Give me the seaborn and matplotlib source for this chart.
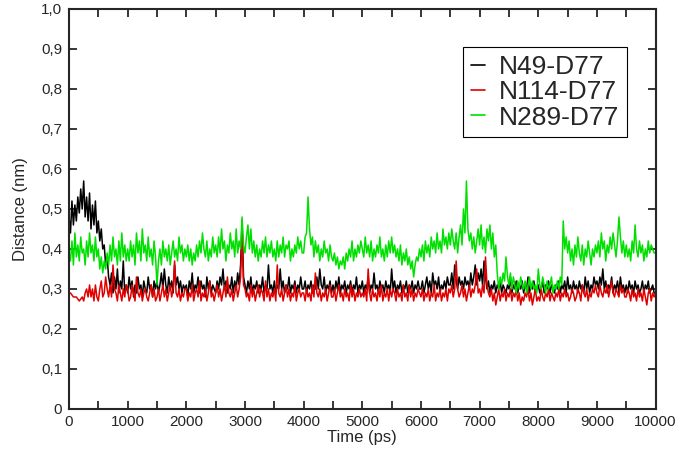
import numpy as np
import pandas as pd
import seaborn as sns
import matplotlib.pyplot as plt
from matplotlib.ticker import MultipleLocator, FuncFormatter

# время, пс (шаг 25 пс)
time_ps = np.arange(0, 10001, 25)

# расстояния, нм - каждая строка 500 пс
n49_d77 = [
    0.48, 0.44, 0.52, 0.46, 0.51, 0.47, 0.53, 0.49, 0.55, 0.50, 0.57, 0.48, 0.53, 0.47, 0.54, 0.45, 0.51, 0.46, 0.52, 0.44,
    0.47, 0.42, 0.45, 0.40, 0.41, 0.36, 0.38, 0.33, 0.31, 0.34, 0.29, 0.33, 0.30, 0.35, 0.29, 0.32, 0.30, 0.37, 0.29, 0.31,
    0.29, 0.33, 0.30, 0.32, 0.28, 0.31, 0.29, 0.33, 0.30, 0.31, 0.28, 0.32, 0.30, 0.29, 0.33, 0.30, 0.31, 0.28, 0.32, 0.30,
    0.32, 0.29, 0.31, 0.34, 0.30, 0.35, 0.31, 0.29, 0.33, 0.30, 0.32, 0.29, 0.36, 0.31, 0.33, 0.30, 0.32, 0.29, 0.31, 0.30,
    0.31, 0.28, 0.32, 0.30, 0.34, 0.29, 0.31, 0.30, 0.33, 0.29, 0.32, 0.30, 0.31, 0.28, 0.33, 0.30, 0.32, 0.29, 0.31, 0.30,
    0.29, 0.32, 0.30, 0.33, 0.31, 0.35, 0.30, 0.32, 0.29, 0.31, 0.30, 0.33, 0.29, 0.32, 0.30, 0.34, 0.31, 0.36, 0.47, 0.33,
    0.31, 0.29, 0.32, 0.30, 0.33, 0.29, 0.31, 0.30, 0.32, 0.29, 0.31, 0.30, 0.33, 0.29, 0.31, 0.30, 0.36, 0.30, 0.31, 0.29,
    0.32, 0.29, 0.31, 0.30, 0.35, 0.30, 0.32, 0.29, 0.31, 0.30, 0.33, 0.29, 0.31, 0.30, 0.32, 0.29, 0.31, 0.30, 0.33, 0.30,
    0.30, 0.32, 0.29, 0.31, 0.30, 0.32, 0.29, 0.31, 0.30, 0.33, 0.30, 0.35, 0.31, 0.30, 0.33, 0.29, 0.31, 0.30, 0.32, 0.29,
    0.31, 0.29, 0.32, 0.30, 0.33, 0.29, 0.31, 0.30, 0.32, 0.29, 0.31, 0.30, 0.32, 0.29, 0.31, 0.30, 0.33, 0.29, 0.31, 0.30,
    0.32, 0.29, 0.31, 0.30, 0.33, 0.29, 0.31, 0.30, 0.34, 0.30, 0.31, 0.29, 0.32, 0.30, 0.31, 0.29, 0.32, 0.30, 0.31, 0.29,
    0.35, 0.30, 0.32, 0.29, 0.31, 0.30, 0.32, 0.29, 0.31, 0.30, 0.32, 0.29, 0.31, 0.30, 0.32, 0.29, 0.31, 0.30, 0.32, 0.30,
    0.30, 0.32, 0.29, 0.31, 0.33, 0.30, 0.32, 0.29, 0.34, 0.31, 0.32, 0.30, 0.33, 0.29, 0.31, 0.30, 0.32, 0.30, 0.33, 0.31,
    0.31, 0.34, 0.30, 0.36, 0.32, 0.30, 0.33, 0.31, 0.32, 0.30, 0.33, 0.31, 0.32, 0.30, 0.34, 0.31, 0.33, 0.36, 0.31, 0.34,
    0.32, 0.35, 0.31, 0.37, 0.33, 0.30, 0.32, 0.29, 0.31, 0.30, 0.32, 0.29, 0.31, 0.30, 0.32, 0.29, 0.31, 0.30, 0.29, 0.31,
    0.30, 0.33, 0.29, 0.31, 0.30, 0.32, 0.29, 0.31, 0.30, 0.32, 0.29, 0.31, 0.30, 0.33, 0.29, 0.31, 0.30, 0.32, 0.29, 0.30,
    0.31, 0.29, 0.30, 0.32, 0.29, 0.31, 0.30, 0.32, 0.29, 0.31, 0.30, 0.29, 0.31, 0.30, 0.32, 0.29, 0.31, 0.30, 0.32, 0.29,
    0.33, 0.30, 0.31, 0.29, 0.32, 0.30, 0.31, 0.29, 0.32, 0.30, 0.31, 0.29, 0.33, 0.30, 0.32, 0.29, 0.31, 0.30, 0.33, 0.31,
    0.32, 0.30, 0.33, 0.31, 0.35, 0.30, 0.32, 0.29, 0.31, 0.30, 0.33, 0.29, 0.31, 0.30, 0.32, 0.29, 0.33, 0.30, 0.31, 0.29,
    0.31, 0.29, 0.32, 0.30, 0.31, 0.29, 0.32, 0.30, 0.31, 0.29, 0.30, 0.32, 0.29, 0.31, 0.30, 0.32, 0.29, 0.30, 0.31, 0.29,
    0.29,
]

n114_d77 = [
    0.29, 0.29, 0.285, 0.28, 0.28, 0.28, 0.275, 0.27, 0.275, 0.28, 0.27, 0.29, 0.30, 0.28, 0.31, 0.28, 0.30, 0.27, 0.31, 0.28,
    0.27, 0.30, 0.32, 0.28, 0.29, 0.33, 0.30, 0.28, 0.31, 0.28, 0.36, 0.30, 0.29, 0.27, 0.31, 0.29, 0.27, 0.30, 0.28, 0.31,
    0.30, 0.27, 0.28, 0.31, 0.29, 0.27, 0.33, 0.29, 0.28, 0.30, 0.27, 0.29, 0.30, 0.28, 0.27, 0.29, 0.31, 0.28, 0.30, 0.27,
    0.28, 0.30, 0.27, 0.29, 0.31, 0.28, 0.30, 0.27, 0.29, 0.31, 0.28, 0.30, 0.37, 0.29, 0.28, 0.30, 0.27, 0.29, 0.28, 0.30,
    0.30, 0.27, 0.29, 0.28, 0.31, 0.27, 0.29, 0.30, 0.28, 0.32, 0.27, 0.29, 0.28, 0.30, 0.27, 0.29, 0.32, 0.28, 0.29, 0.27,
    0.29, 0.31, 0.28, 0.30, 0.27, 0.29, 0.31, 0.28, 0.33, 0.29, 0.28, 0.30, 0.27, 0.29, 0.31, 0.28, 0.30, 0.33, 0.44, 0.31,
    0.30, 0.28, 0.29, 0.27, 0.31, 0.28, 0.30, 0.27, 0.29, 0.31, 0.28, 0.30, 0.29, 0.27, 0.32, 0.28, 0.30, 0.27, 0.29, 0.28,
    0.30, 0.27, 0.36, 0.29, 0.28, 0.30, 0.27, 0.29, 0.31, 0.28, 0.30, 0.27, 0.29, 0.28, 0.31, 0.27, 0.29, 0.30, 0.28, 0.29,
    0.29, 0.27, 0.30, 0.28, 0.29, 0.27, 0.31, 0.28, 0.34, 0.29, 0.28, 0.30, 0.27, 0.29, 0.28, 0.30, 0.27, 0.29, 0.31, 0.28,
    0.28, 0.30, 0.27, 0.29, 0.31, 0.28, 0.29, 0.27, 0.30, 0.28, 0.29, 0.27, 0.31, 0.28, 0.30, 0.27, 0.29, 0.28, 0.30, 0.28,
    0.29, 0.28, 0.30, 0.27, 0.35, 0.29, 0.27, 0.30, 0.28, 0.29, 0.27, 0.30, 0.28, 0.31, 0.27, 0.29, 0.28, 0.30, 0.27, 0.30,
    0.28, 0.30, 0.29, 0.27, 0.30, 0.28, 0.29, 0.27, 0.31, 0.28, 0.29, 0.27, 0.31, 0.28, 0.30, 0.27, 0.29, 0.28, 0.30, 0.29,
    0.28, 0.30, 0.27, 0.29, 0.28, 0.30, 0.27, 0.29, 0.28, 0.31, 0.27, 0.29, 0.28, 0.30, 0.27, 0.29, 0.28, 0.30, 0.27, 0.30,
    0.29, 0.31, 0.28, 0.30, 0.37, 0.30, 0.28, 0.29, 0.31, 0.28, 0.30, 0.27, 0.29, 0.31, 0.28, 0.30, 0.29, 0.31, 0.35, 0.29,
    0.30, 0.28, 0.31, 0.29, 0.38, 0.31, 0.29, 0.28, 0.30, 0.27, 0.29, 0.26, 0.28, 0.30, 0.27, 0.29, 0.28, 0.30, 0.27, 0.29,
    0.28, 0.30, 0.27, 0.29, 0.28, 0.30, 0.27, 0.29, 0.26, 0.28, 0.27, 0.29, 0.28, 0.30, 0.27, 0.29, 0.26, 0.28, 0.30, 0.27,
    0.28, 0.27, 0.30, 0.28, 0.27, 0.29, 0.28, 0.30, 0.27, 0.29, 0.28, 0.27, 0.29, 0.28, 0.30, 0.27, 0.29, 0.28, 0.30, 0.28,
    0.29, 0.27, 0.28, 0.30, 0.29, 0.27, 0.28, 0.30, 0.29, 0.27, 0.31, 0.29, 0.28, 0.30, 0.27, 0.29, 0.28, 0.30, 0.29, 0.31,
    0.29, 0.28, 0.31, 0.29, 0.28, 0.30, 0.29, 0.31, 0.28, 0.30, 0.32, 0.29, 0.28, 0.30, 0.29, 0.28, 0.31, 0.29, 0.30, 0.28,
    0.28, 0.30, 0.29, 0.27, 0.30, 0.28, 0.29, 0.27, 0.30, 0.28, 0.29, 0.27, 0.30, 0.28, 0.26, 0.29, 0.30, 0.27, 0.29, 0.28,
    0.29,
]

n289_d77 = [
    0.39, 0.37, 0.42, 0.36, 0.44, 0.38, 0.41, 0.37, 0.43, 0.39, 0.40, 0.36, 0.42, 0.38, 0.44, 0.39, 0.41, 0.37, 0.43, 0.38,
    0.40, 0.35, 0.38, 0.34, 0.37, 0.35, 0.39, 0.36, 0.41, 0.37, 0.43, 0.38, 0.40, 0.36, 0.42, 0.37, 0.44, 0.38, 0.41, 0.37,
    0.40, 0.37, 0.42, 0.38, 0.41, 0.36, 0.44, 0.39, 0.42, 0.37, 0.45, 0.39, 0.41, 0.37, 0.43, 0.38, 0.40, 0.36, 0.42, 0.38,
    0.31, 0.37, 0.40, 0.36, 0.42, 0.38, 0.40, 0.37, 0.41, 0.36, 0.39, 0.42, 0.38, 0.40, 0.37, 0.43, 0.39, 0.41, 0.37, 0.40,
    0.38, 0.41, 0.37, 0.40, 0.36, 0.39, 0.37, 0.41, 0.38, 0.42, 0.39, 0.44, 0.40, 0.38, 0.42, 0.37, 0.40, 0.38, 0.43, 0.39,
    0.41, 0.38, 0.43, 0.39, 0.45, 0.40, 0.42, 0.37, 0.41, 0.39, 0.44, 0.40, 0.42, 0.38, 0.45, 0.39, 0.42, 0.40, 0.48, 0.41,
    0.39, 0.43, 0.46, 0.40, 0.45, 0.39, 0.42, 0.38, 0.41, 0.37, 0.40, 0.38, 0.42, 0.39, 0.43, 0.38, 0.41, 0.39, 0.42, 0.38,
    0.40, 0.37, 0.42, 0.38, 0.41, 0.39, 0.43, 0.38, 0.41, 0.40, 0.42, 0.37, 0.40, 0.38, 0.41, 0.39, 0.43, 0.40, 0.42, 0.39,
    0.39, 0.43, 0.44, 0.53, 0.45, 0.41, 0.43, 0.38, 0.42, 0.39, 0.41, 0.37, 0.40, 0.38, 0.42, 0.39, 0.40, 0.37, 0.41, 0.38,
    0.37, 0.39, 0.36, 0.38, 0.35, 0.37, 0.36, 0.38, 0.35, 0.39, 0.37, 0.40, 0.38, 0.42, 0.37, 0.40, 0.38, 0.41, 0.39, 0.42,
    0.40, 0.38, 0.43, 0.39, 0.41, 0.38, 0.42, 0.37, 0.40, 0.38, 0.41, 0.39, 0.43, 0.38, 0.40, 0.37, 0.41, 0.38, 0.42, 0.39,
    0.43, 0.39, 0.41, 0.38, 0.40, 0.37, 0.41, 0.36, 0.39, 0.37, 0.40, 0.36, 0.38, 0.35, 0.37, 0.33, 0.36, 0.38, 0.37, 0.40,
    0.38, 0.41, 0.37, 0.42, 0.39, 0.41, 0.38, 0.43, 0.40, 0.42, 0.39, 0.44, 0.40, 0.42, 0.39, 0.45, 0.41, 0.43, 0.40, 0.44,
    0.41, 0.45, 0.42, 0.40, 0.44, 0.39, 0.43, 0.46, 0.41, 0.50, 0.44, 0.57, 0.45, 0.42, 0.44, 0.40, 0.43, 0.39, 0.42, 0.45,
    0.41, 0.46, 0.40, 0.43, 0.39, 0.45, 0.42, 0.46, 0.40, 0.44, 0.38, 0.41, 0.34, 0.30, 0.33, 0.31, 0.34, 0.32, 0.38, 0.33,
    0.31, 0.34, 0.30, 0.33, 0.31, 0.29, 0.32, 0.30, 0.33, 0.31, 0.30, 0.32, 0.29, 0.31, 0.33, 0.30, 0.32, 0.30, 0.31, 0.29,
    0.35, 0.31, 0.30, 0.33, 0.31, 0.29, 0.32, 0.30, 0.31, 0.33, 0.29, 0.31, 0.30, 0.32, 0.30, 0.33, 0.31, 0.47, 0.40, 0.43,
    0.39, 0.42, 0.37, 0.40, 0.36, 0.41, 0.38, 0.43, 0.39, 0.37, 0.41, 0.36, 0.40, 0.38, 0.42, 0.39, 0.36, 0.40, 0.38, 0.41,
    0.39, 0.42, 0.38, 0.44, 0.40, 0.42, 0.37, 0.41, 0.39, 0.43, 0.40, 0.44, 0.41, 0.38, 0.42, 0.48, 0.43, 0.39, 0.42, 0.38,
    0.41, 0.38, 0.40, 0.37, 0.42, 0.39, 0.46, 0.40, 0.38, 0.42, 0.39, 0.41, 0.37, 0.40, 0.38, 0.42, 0.39, 0.41, 0.40, 0.39,
    0.39,
]

series_names = ['N49-D77', 'N114-D77', 'N289-D77']
series_colors = ['#000000', '#e00000', '#00e000']

df = pd.DataFrame({
    'Time (ps)': np.tile(time_ps, 3),
    'Distance (nm)': n49_d77 + n114_d77 + n289_d77,
    'set': np.repeat(series_names, len(time_ps)),
})

sns.set_style('ticks')
plt.rcParams['font.family'] = ['Liberation Sans', 'DejaVu Sans']

fig = plt.figure(figsize=(6.86, 4.59), dpi=100)
ax = fig.add_axes([0.1006, 0.109, 0.8551, 0.8714])

sns.lineplot(df, x='Time (ps)', y='Distance (nm)', hue='set',
             hue_order=series_names, palette=series_colors,
             linewidth=1.1, ax=ax, estimator=None)

ax.set_xlim(0, 10000)
ax.set_ylim(0, 1.0)
ax.xaxis.set_major_locator(MultipleLocator(1000))
ax.xaxis.set_minor_locator(MultipleLocator(500))
ax.yaxis.set_major_locator(MultipleLocator(0.1))
ax.yaxis.set_major_formatter(FuncFormatter(
    lambda v, p: '0' if abs(v) < 1e-9 else f'{v:.1f}'.replace('.', ',')))

ax.tick_params(which='both', direction='in', top=True, right=True,
               length=6, width=1.3, labelsize=11)
ax.tick_params(axis='y', pad=5)
ax.tick_params(axis='x', pad=4)
for s in ax.spines.values():
    s.set_linewidth(1.5)

ax.set_xlabel('Time (ps)', fontsize=12, labelpad=1)
ax.set_ylabel('Distance (nm)', fontsize=12, labelpad=9)

leg = ax.legend(loc='upper right', bbox_to_anchor=(0.951, 0.905),
                fontsize=19, handlelength=0.55, handletextpad=0.5,
                labelspacing=0.05, borderpad=0.3, borderaxespad=0,
                fancybox=False, framealpha=1, edgecolor='black')
leg.get_frame().set_linewidth(0.8)
for h in leg.get_lines():
    h.set_linewidth(1.2)

fig.savefig('out.png', dpi=100)
